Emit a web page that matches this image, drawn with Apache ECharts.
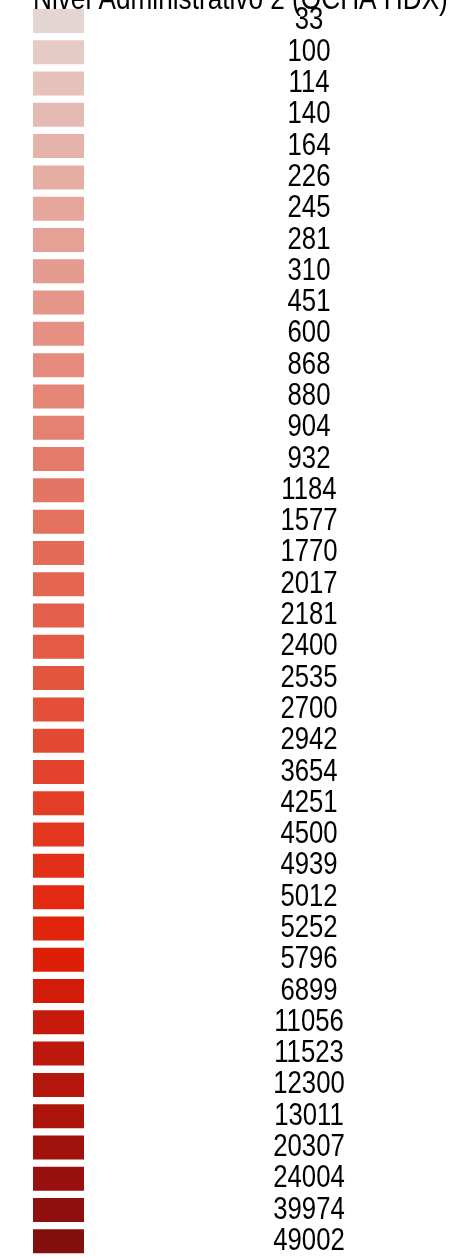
<!DOCTYPE html>
<html>
<head>
<meta charset="utf-8">
<script src="https://cdn.jsdelivr.net/npm/echarts@6/dist/echarts.min.js"></script>
<style>
  html, body { margin: 0; padding: 0; background: #fff; }
  #main { width: 458px; height: 1257px; }
</style>
</head>
<body>
<div id="main"></div>
<script>
// categorias de la leyenda (valores por nivel administrativo 2)
var labels = ['33', '100', '114', '140', '164', '226', '245', '281', '310', '451',
  '600', '868', '880', '904', '932', '1184', '1577', '1770', '2017', '2181',
  '2400', '2535', '2700', '2942', '3654', '4251', '4500', '4939', '5012', '5252',
  '5796', '6899', '11056', '11523', '12300', '13011', '20307', '24004', '39974', '49002'];

// colores de cada caja
var colors = ['#e3d6d2', '#e6cbc5', '#e6c2ba', '#e5bab2', '#e6b3aa', '#e6ada2', '#e6a69b', '#e6a196', '#e59b8f', '#e59689',
  '#e59083', '#e58b7d', '#e58677', '#e48171', '#e47b6a', '#e47564', '#e4705e', '#e46b58', '#e46652', '#e4604c',
  '#e45a45', '#e4553f', '#e34f39', '#e34932', '#e3432c', '#e33d25', '#e3371f', '#e23018', '#e22a12', '#e1240c',
  '#dd1f08', '#d21c09', '#c4190b', '#bd180c', '#b5160c', '#ac140c', '#a2120d', '#98110e', '#8e0f0e', '#850e0e'];

var swatch = labels.map(function () { return 1; });

// no hay fuente estrecha instalada: se comprime la Liberation Sans
var narrow = 0.83;
var font = '31px "Liberation Sans", Arial, sans-serif';

var myChart = echarts.init(document.getElementById('main'));
myChart.setOption({
  animation: false,
  graphic: [
    {
      type: 'text',
      x: 33,
      y: 0,
      scaleX: 0.845,
      style: {
        text: 'Nivel Administrativo 2 (OCHA HDX)',
        font: font,
        fill: '#000',
        align: 'left',
        verticalAlign: 'middle'
      }
    }
  ],
  grid: { left: 33, top: 5.3, width: 51, height: 1256 },
  xAxis: { type: 'value', min: 0, max: 1, show: false },
  yAxis: {
    type: 'category',
    data: labels,
    inverse: true,
    show: false
  },
  series: [
    {
      type: 'custom',
      encode: { x: 0, y: 1 },
      data: swatch.map(function (v, i) { return [v, i]; }),
      renderItem: function (params, api) {
        var i = api.value(1);
        var p0 = api.coord([0, i]);
        var w = api.size([api.value(0), 0])[0];
        return {
          type: 'group',
          children: [
            {
              type: 'rect',
              shape: { x: p0[0], y: p0[1] - 12, width: w, height: 24 },
              style: { fill: colors[i] }
            },
            {
              type: 'text',
              x: 309,
              y: p0[1],
              scaleX: narrow,
              style: {
                text: labels[i],
                font: font,
                fill: '#000',
                align: 'center',
                verticalAlign: 'middle'
              }
            }
          ]
        };
      }
    }
  ]
});
</script>
</body>
</html>
